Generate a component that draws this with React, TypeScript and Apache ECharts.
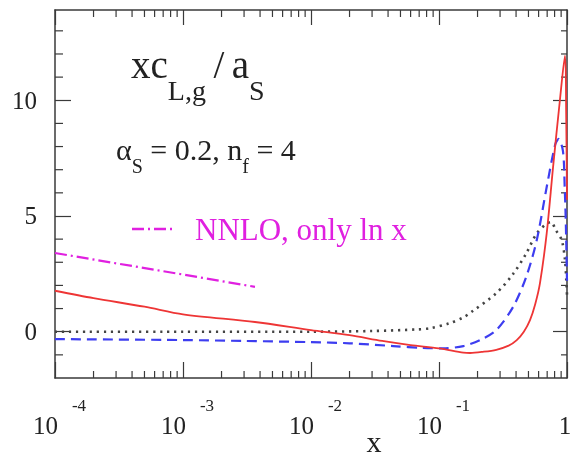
import React, { useEffect, useRef } from "react";
import * as echarts from "echarts";

const X_MIN = 1e-4;
const X_MAX = 1;
const Y_MIN = -2;
const Y_MAX = 13.9;

// solid red curve
const redX = [1e-4, 2e-4, 5e-4, 1e-3, 3.65e-3, 1e-2, 0.02, 0.036, 0.06, 0.1, 0.155, 0.175, 0.22, 0.28, 0.35, 0.405, 0.46, 0.514, 0.565, 0.615, 0.694, 0.778, 0.88, 0.965, 0.985, 1.0];
const redY = [1.77, 1.45, 1.08, 0.75, 0.42, 0.07, -0.15, -0.4, -0.58, -0.72, -0.9, -0.92, -0.87, -0.78, -0.6, -0.36, 0.0, 0.5, 1.2, 2.1, 4.25, 7.1, 10.0, 11.93, 9.5, 5.7];

// blue dashed curve
const blueX = [1e-4, 1e-3, 3e-3, 1e-2, 0.02, 0.044, 0.075, 0.107, 0.155, 0.21, 0.28, 0.38, 0.48, 0.58, 0.694, 0.81, 0.86, 0.93, 0.96, 0.98, 1.0];
const blueY = [-0.32, -0.36, -0.4, -0.45, -0.5, -0.62, -0.7, -0.72, -0.62, -0.36, 0.07, 1.08, 2.37, 3.95, 6.25, 8.1, 8.33, 7.8, 6.2, 4.6, 2.2];

// black dotted curve
const blackX = [1e-4, 1e-3, 1e-2, 0.03, 0.068, 0.085, 0.12, 0.155, 0.18, 0.28, 0.38, 0.48, 0.58, 0.694, 0.75, 0.82, 0.91, 0.965, 0.99, 1.0];
const blackY = [0, 0, 0, 0.03, 0.1, 0.15, 0.36, 0.62, 0.86, 1.66, 2.5, 3.38, 4.25, 4.67, 4.74, 4.38, 3.95, 3.1, 2.1, 1.6];

// magenta dash-dot: NNLO, only ln x
const magX = [1e-4, 1e-3, 3.65e-3];
const magY = [3.4, 2.47, 1.94];

const yLabelValues = [0, 5, 10];
const yMinorValues = [-1, 1, 2, 3, 4, 6, 7, 8, 9, 11, 12, 13];
const xDecades = [1e-4, 1e-3, 1e-2, 1e-1];
const xMinorMultipliers = [2, 3, 4, 5, 6, 7, 8, 9];

const legendLabel = "NNLO, only ln x";

const zip = (xs: number[], ys: number[]) => xs.map((x, i) => [x, ys[i]]);

export default function App() {
  const ref = useRef<HTMLDivElement>(null);
  useEffect(() => {
    const chart = echarts.init(ref.current!, null, { renderer: "svg" });
    const serif = "Liberation Serif";
    const frame = "#3a3a3a";
    const ink = "#222";

    // kinds: 0 bottom, 1 top, 2 left, 3 right
    const tickData: number[][] = [];
    xDecades.forEach((d) =>
      xMinorMultipliers.forEach((m) => {
        tickData.push([d * m, Y_MIN, 0]);
        tickData.push([d * m, Y_MAX, 1]);
      })
    );
    yMinorValues.forEach((v) => {
      tickData.push([X_MIN, v, 2]);
      tickData.push([X_MAX, v, 3]);
    });

    chart.setOption({
      animation: false,
      grid: { left: 55, right: 6, top: 10, bottom: 79, outerBoundsMode: "none" },
      xAxis: [
        {
          type: "log",
          logBase: 10,
          min: X_MIN,
          max: X_MAX,
          position: "bottom",
          name: "x",
          nameLocation: "middle",
          nameGap: 48,
          nameMoveOverlap: false,
          nameTextStyle: { fontFamily: serif, fontSize: 30, color: ink, padding: [0, 0, 0, 126] },
          axisLine: { onZero: false, lineStyle: { color: frame, width: 1.5 } },
          axisTick: { show: true, inside: true, length: 16, lineStyle: { color: frame, width: 1.2 } },
          splitLine: { show: false },
          axisLabel: {
            margin: 19,
            showMinLabel: true,
            showMaxLabel: true,
            formatter: (v: number) => {
              const e = Math.round(Math.log10(v));
              if (e === 0) return "{c|1}";
              return "{b|10}{s|" + e + "}";
            },
            rich: {
              b: { fontSize: 25, fontFamily: serif, color: ink, padding: [16, 0, 0, 9], verticalAlign: "top" },
              s: { fontSize: 17, fontFamily: serif, color: ink, padding: [0, 0, 0, 14], verticalAlign: "top" },
              c: { fontSize: 25, fontFamily: serif, color: ink, padding: [16, 4, 0, 0], verticalAlign: "top" },
            },
          },
        },
        {
          type: "log",
          logBase: 10,
          min: X_MIN,
          max: X_MAX,
          position: "top",
          axisLine: { onZero: false, lineStyle: { color: frame, width: 1.5 } },
          axisTick: { show: true, inside: true, length: 15, lineStyle: { color: frame, width: 1.2 } },
          splitLine: { show: false },
          axisLabel: { show: false },
        },
      ],
      yAxis: [
        {
          type: "value",
          min: Y_MIN,
          max: Y_MAX,
          position: "left",
          axisLine: { show: true, onZero: false, lineStyle: { color: frame, width: 1.5 } },
          axisTick: { show: true, inside: true, length: 16, customValues: yLabelValues, lineStyle: { color: frame, width: 1.2 } },
          splitLine: { show: false },
          axisLabel: { customValues: yLabelValues, margin: 18, fontSize: 25, fontFamily: serif, color: ink },
        },
        {
          type: "value",
          min: Y_MIN,
          max: Y_MAX,
          position: "right",
          axisLine: { show: true, onZero: false, lineStyle: { color: frame, width: 1.5 } },
          axisTick: { show: true, inside: true, length: 14, customValues: yLabelValues, lineStyle: { color: frame, width: 1.2 } },
          splitLine: { show: false },
          axisLabel: { show: false },
        },
      ],
      series: [
        {
          type: "line",
          name: "black dotted",
          data: zip(blackX, blackY),
          showSymbol: false,
          smooth: 0.3,
          lineStyle: { color: "#444", width: 2.6, type: [2.2, 4.8] },
          z: 3,
        },
        {
          type: "line",
          name: "blue dashed",
          data: zip(blueX, blueY),
          showSymbol: false,
          smooth: 0.3,
          lineStyle: { color: "#3d3df0", width: 2.2, type: [10, 6] },
          z: 4,
        },
        {
          type: "line",
          name: "red solid",
          data: zip(redX, redY),
          showSymbol: false,
          smooth: 0.3,
          lineStyle: { color: "#ee3535", width: 1.8 },
          z: 5,
        },
        {
          type: "line",
          name: legendLabel,
          data: zip(magX, magY),
          showSymbol: false,
          lineStyle: { color: "#e020e0", width: 2.2, type: [12, 4, 2, 4] },
          z: 6,
        },
        {
          type: "custom",
          name: "minor ticks",
          silent: true,
          clip: false,
          data: tickData,
          encode: { x: 0, y: 1 },
          renderItem: (params: any, api: any) => {
            const kind = api.value(2);
            const p = api.coord([api.value(0), api.value(1)]);
            const st = { stroke: frame, lineWidth: 1.2 };
            let dx = 0;
            let dy = 0;
            if (kind === 0) dy = -7;
            else if (kind === 1) dy = 7;
            else if (kind === 2) dx = 8;
            else dx = -6;
            return { type: "line", shape: { x1: p[0], y1: p[1], x2: p[0] + dx, y2: p[1] + dy }, style: st };
          },
          z: 2,
        },
      ],
      graphic: [
        {
          type: "text",
          x: 131,
          y: 45,
          style: {
            text: "{m|xc}{s|L,g}{g| }{m|/}{g| }{m|a}{s|S}",
            rich: {
              m: { fontSize: 39, fontFamily: serif, fill: ink, verticalAlign: "top" },
              s: { fontSize: 28, fontFamily: serif, fill: ink, verticalAlign: "top", padding: [31, 0, 0, 0] },
              g: { fontSize: 30, fontFamily: serif, verticalAlign: "top" },
            },
          },
        },
        {
          type: "text",
          x: 116,
          y: 134,
          style: {
            text: "{m|α}{s|S}{m| = 0.2, n}{s|f}{m| = 4}",
            rich: {
              m: { fontSize: 30, fontFamily: serif, fill: ink, verticalAlign: "top" },
              s: { fontSize: 20, fontFamily: serif, fill: ink, verticalAlign: "top", padding: [22, 0, 0, 0] },
            },
          },
        },
        {
          type: "line",
          shape: { x1: 132, y1: 229, x2: 173, y2: 229 },
          style: { stroke: "#e020e0", lineWidth: 2.4, lineDash: [12, 4, 2, 4] },
        },
        {
          type: "text",
          x: 195,
          y: 229,
          style: { text: legendLabel, fontSize: 31, fontFamily: serif, fill: "#e020e0", verticalAlign: "middle" },
        },
      ],
    });
    return () => chart.dispose();
  }, []);
  return <div ref={ref} style={{ position: "fixed", left: 0, top: 0, width: 573, height: 457 }} />;
}
